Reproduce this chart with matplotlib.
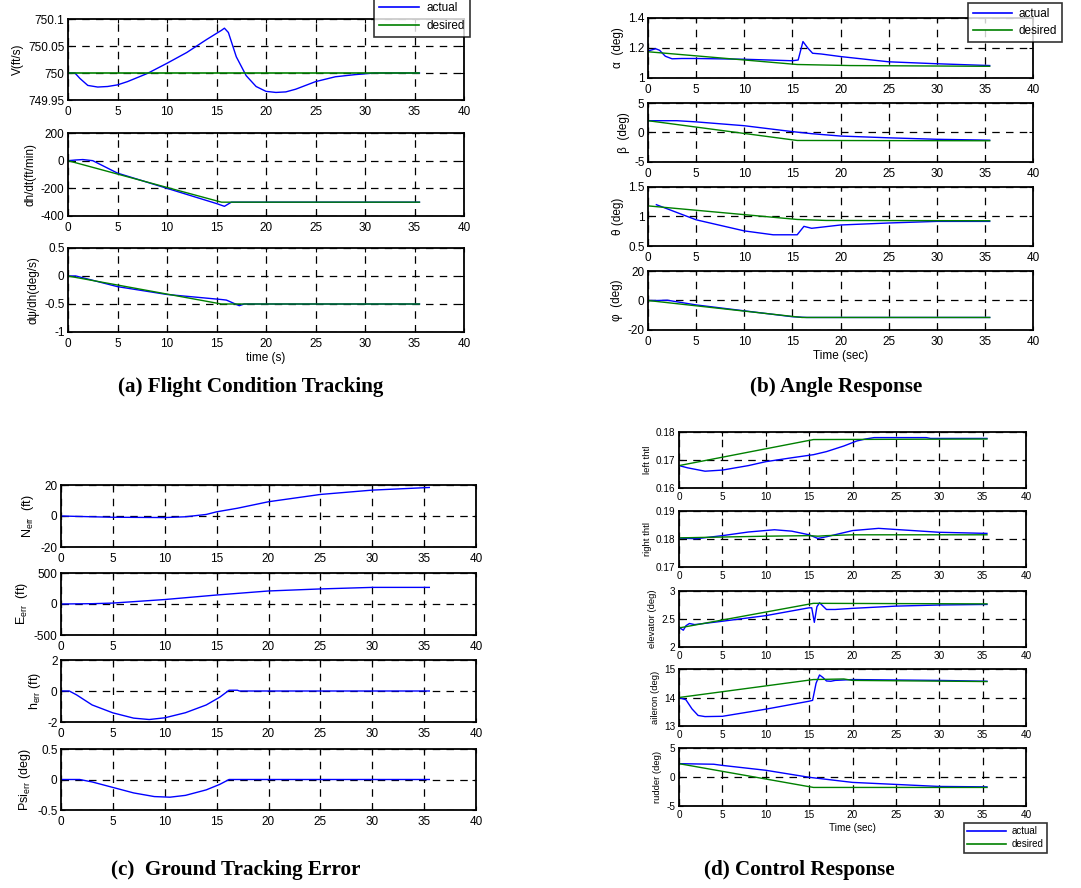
import matplotlib
matplotlib.use("Agg")
import matplotlib.pyplot as plt
from matplotlib.lines import Line2D
from matplotlib import ticker

plt.rcParams['font.family'] = ['Liberation Sans', 'DejaVu Sans']
plt.rcParams['mathtext.fontset'] = 'custom'
plt.rcParams['mathtext.rm'] = 'Liberation Sans'
plt.rcParams['mathtext.it'] = 'Liberation Sans:italic'
plt.rcParams['axes.unicode_minus'] = False

# ---------------- data ----------------
x_ticks = [0, 5, 10, 15, 20, 25, 30, 35, 40]

# (a) Flight condition tracking
V_t = [0, 0.7, 1.2, 2, 3, 4, 5, 6, 8, 10, 12, 14, 15.5, 15.8, 16.2, 17, 18, 19, 20, 21, 22, 23, 25, 27, 29, 31, 35.5]
V_act = [750, 750, 749.99, 749.977, 749.974, 749.975, 749.978, 749.984, 749.999, 750.018, 750.038, 750.062,
         750.079, 750.083, 750.075, 750.03, 749.995, 749.975, 749.966, 749.964, 749.965, 749.970, 749.984,
         749.993, 749.997, 750.0, 750.0]
V_des_t = [0, 35.5]
V_des = [750, 750]
V_ticks = [749.95, 750, 750.05, 750.1]
V_ticklabels = ['749.95', '750', '750.05', '750.1']

dh_t = [0, 0.8, 1.5, 2.5, 5, 10, 15, 15.8, 16.5, 35.5]
dh_act = [0, 5, 8, 0, -90, -200, -310, -330, -300, -300]
dh_des_t = [0, 15.5, 35.5]
dh_des = [0, -300, -300]
dh_ticks = [-400, -200, 0, 200]

dpsi_t = [0, 0.8, 5, 10, 15.5, 16, 17.3, 17.8, 35.5]
dpsi_act = [0, 0, -0.19, -0.33, -0.42, -0.43, -0.53, -0.5, -0.5]
dpsi_des_t = [0, 15.5, 35.5]
dpsi_des = [0, -0.5, -0.5]
dpsi_ticks = [-1, -0.5, 0, 0.5]

# (b) Angle response
al_t = [0, 0.8, 1.2, 1.8, 2.5, 3.5, 5, 10, 15, 15.6, 16.1, 16.6, 17.1, 18, 20, 25, 30, 35.5]
al_act = [1.18, 1.195, 1.185, 1.145, 1.128, 1.13, 1.13, 1.125, 1.115, 1.12, 1.243, 1.2, 1.165, 1.16,
          1.143, 1.108, 1.095, 1.083]
al_des_t = [0, 15.5, 21, 35.5]
al_des = [1.175, 1.09, 1.083, 1.078]
al_ticks = [1, 1.2, 1.4]

be_t = [0, 3, 5, 10, 15, 17, 20, 25, 30, 35.5]
be_act = [2.0, 2.0, 1.8, 1.15, 0.15, -0.2, -0.6, -0.9, -1.15, -1.3]
be_des_t = [0, 15.5, 35.5]
be_des = [2.0, -1.35, -1.4]
be_ticks = [-5, 0, 5]

th_t = [0.87, 5, 10, 13, 15.5, 16.2, 17, 20, 25, 30, 35.5]
th_act = [1.2, 0.944, 0.756, 0.69, 0.69, 0.833, 0.8, 0.856, 0.89, 0.917, 0.917]
th_des_t = [0, 15.5, 18.5, 35.5]
th_des = [1.18, 0.95, 0.933, 0.928]
th_ticks = [0.5, 1, 1.5]

ph_t = [0, 1, 2, 5, 10, 15, 16.5, 35.5]
ph_act = [0, 0, 0.2, -3, -7, -11, -11.5, -11.5]
ph_des_t = [0, 16, 35.5]
ph_des = [0, -11.5, -11.5]
ph_ticks = [-20, 0, 20]

# (c) Ground tracking error
N_t = [0, 3, 5, 10, 12, 14, 15, 17, 20, 25, 30, 35.5]
N_err = [0, -0.5, -0.8, -1, -0.5, 1, 2.7, 5, 9.2, 13.9, 16.7, 18.4]
N_ticks = [-20, 0, 20]

E_t = [0, 3, 5, 10, 15, 20, 25, 30, 35.5]
E_err = [0, 5, 15, 72, 145, 210, 243, 268, 268]
E_ticks = [-500, 0, 500]

h_t = [0, 0.8, 1.5, 3, 5, 7, 8.5, 10, 12, 14, 15.3, 16.2, 17, 17.2, 35.5]
h_err = [0, 0, -0.25, -0.9, -1.41, -1.75, -1.84, -1.73, -1.4, -0.9, -0.4, 0.05, 0.05, 0, 0]
h_ticks = [-2, 0, 2]

P_t = [0, 1.8, 3, 5, 7, 9, 10.5, 12, 14, 15.3, 16.2, 35.5]
P_err = [0, 0, -0.04, -0.13, -0.22, -0.28, -0.29, -0.26, -0.17, -0.08, 0, 0]
P_ticks = [-0.5, 0, 0.5]

# (d) Control response
lt_t = [0, 1, 3, 5, 8, 10, 13, 15.5, 17, 19, 20.5, 21.5, 22.5, 28.5, 29, 35.5]
lt_act = [0.168, 0.1672, 0.166, 0.1664, 0.168, 0.1694, 0.1708, 0.1719, 0.173, 0.175, 0.1768, 0.1775,
          0.178, 0.178, 0.1777, 0.1777]
lt_des_t = [0, 15.5, 35.5]
lt_des = [0.168, 0.1773, 0.1775]
lt_ticks = [0.16, 0.17, 0.18]
lt_ticklabels = ['0.16', '0.17', '0.18']

rt_t = [0, 2, 5, 8, 11, 13, 15, 16, 17, 20, 23, 25, 30, 35.5]
rt_act = [0.1803, 0.1801, 0.1812, 0.1825, 0.1833, 0.1828, 0.1815, 0.1802, 0.1808, 0.183, 0.1838, 0.1834,
          0.1824, 0.182]
rt_des_t = [0, 10, 15, 16, 17, 20, 35.5]
rt_des = [0.1804, 0.181, 0.1812, 0.181, 0.1812, 0.1815, 0.1815]
rt_ticks = [0.17, 0.18, 0.19]
rt_ticklabels = ['0.17', '0.18', '0.19']

el_t = [0, 0.5, 0.8, 1.2, 1.8, 5, 10, 15, 15.3, 15.6, 15.9, 16.2, 17, 18, 20, 25, 30, 35.5]
el_act = [2.35, 2.3, 2.38, 2.42, 2.4, 2.46, 2.56, 2.7, 2.7, 2.44, 2.72, 2.79, 2.67, 2.67, 2.69, 2.73,
          2.75, 2.76]
el_des_t = [0, 15.5, 35.5]
el_des = [2.34, 2.78, 2.77]
el_ticks = [2, 2.5, 3]

ai_t = [0, 0.5, 0.8, 1.5, 2.2, 3, 5, 10, 15, 15.4, 15.8, 16.2, 16.6, 17, 17.5, 18, 20, 23, 30, 35.5]
ai_act = [14.0, 13.95, 13.92, 13.6, 13.37, 13.33, 13.34, 13.59, 13.87, 13.9, 14.5, 14.79, 14.7, 14.58,
          14.57, 14.6, 14.63, 14.62, 14.6, 14.57]
ai_des_t = [0, 15.5, 19, 20, 35.5]
ai_des = [14.0, 14.63, 14.65, 14.6, 14.56]
ai_ticks = [13, 14, 15]

ru_t = [0, 4, 5, 10, 15, 20, 25, 30, 35.5]
ru_act = [2.3, 2.2, 2.0, 1.16, -0.05, -0.93, -1.28, -1.63, -1.7]
ru_des_t = [0, 15.5, 35.5]
ru_des = [2.3, -1.8, -1.8]
ru_ticks = [-5, 0, 5]

# ---------------- figure ----------------
W, H = 1081, 888
fig = plt.figure(figsize=(W / 100, H / 100), dpi=100)
BLUE = '#0000ff'
GREEN = '#008000'
fmt = ticker.FuncFormatter(lambda v, p: '%g' % v)


def make_ax(x0, x1, ytop, ybot, yticks, ylabel, yticklabels=None, fs=8.5, lfs=8.5, xpad=4):
    ax = fig.add_axes([x0 / W, 1 - ybot / H, (x1 - x0) / W, (ybot - ytop) / H])
    ax.set_xlim(0, 40)
    ax.set_ylim(yticks[0], yticks[-1])
    ax.set_xticks(x_ticks)
    ax.set_yticks(yticks)
    ax.xaxis.set_major_formatter(fmt)
    if yticklabels is not None:
        ax.set_yticklabels(yticklabels)
    else:
        ax.yaxis.set_major_formatter(fmt)
    ax.tick_params(direction='in', length=3, width=0.8, top=True, right=True,
                   labelsize=fs, pad=2.5, colors='black')
    ax.tick_params(axis='x', pad=xpad)
    ax.grid(True, color='black', linestyle=(0, (6, 5)), linewidth=0.9)
    ax.set_axisbelow(True)
    for s in ax.spines.values():
        s.set_linewidth(1.3)
    ax.set_ylabel(ylabel, fontsize=lfs, labelpad=3)
    return ax


def title(xc, y, txt):
    fig.text(xc / W, 1 - y / H, txt, ha='center', va='center', family='Liberation Serif',
             fontweight='bold', fontsize=15.2)


def add_legend(handles, loc, anchor, fs, hl, bp, ls):
    leg = fig.legend(handles, ['actual', 'desired'], loc=loc, bbox_to_anchor=anchor, fontsize=fs,
                     frameon=True, fancybox=False, handlelength=hl, borderpad=bp, labelspacing=ls,
                     borderaxespad=0, handletextpad=0.6)
    leg.get_frame().set_edgecolor('black')
    leg.get_frame().set_linewidth(1.2)
    return leg


handles = [Line2D([], [], color=BLUE, lw=1.2), Line2D([], [], color=GREEN, lw=1.2)]

# (a)
ax = make_ax(68, 464, 19, 100, V_ticks, 'V(ft/s)', V_ticklabels)
ax.plot(V_t, V_act, color=BLUE, lw=1)
ax.plot(V_des_t, V_des, color=GREEN, lw=1.2)
ax = make_ax(68, 464, 133, 216, dh_ticks, 'dh/dt(ft/min)')
ax.plot(dh_t, dh_act, color=BLUE, lw=1)
ax.plot(dh_des_t, dh_des, color=GREEN, lw=1)
ax = make_ax(68, 464, 248, 332, dpsi_ticks, 'd\u03c8/dh(deg/s)')
ax.plot(dpsi_t, dpsi_act, color=BLUE, lw=1)
ax.plot(dpsi_des_t, dpsi_des, color=GREEN, lw=1)
ax.set_xlabel('time (s)', fontsize=8.5, labelpad=2)
add_legend(handles, 'lower right', (470 / W, 1 - 37 / H), 8.5, 3.4, 0.45, 0.5)
title(251, 387, '(a) Flight Condition Tracking')

# (b)
ax = make_ax(648, 1033, 18, 78, al_ticks, '\u03b1  (deg)')
ax.plot(al_t, al_act, color=BLUE, lw=1)
ax.plot(al_des_t, al_des, color=GREEN, lw=1)
ax = make_ax(648, 1033, 103, 162, be_ticks, '\u03b2  (deg)')
ax.plot(be_t, be_act, color=BLUE, lw=1)
ax.plot(be_des_t, be_des, color=GREEN, lw=1)
ax = make_ax(648, 1033, 187, 246, th_ticks, '\u03b8 (deg)')
ax.plot(th_t, th_act, color=BLUE, lw=1)
ax.plot(th_des_t, th_des, color=GREEN, lw=1)
ax = make_ax(648, 1033, 271, 330, ph_ticks, '\u03c6  (deg)')
ax.plot(ph_t, ph_act, color=BLUE, lw=1)
ax.plot(ph_des_t, ph_des, color=GREEN, lw=1)
ax.set_xlabel('Time (sec)', fontsize=8.5, labelpad=2)
add_legend(handles, 'upper right', (1062 / W, 1 - 3 / H), 8.5, 3.3, 0.4, 0.45)
title(836, 387, '(b) Angle Response')

# (c)
ax = make_ax(61, 476, 485, 547, N_ticks, r'N$_{\mathrm{err}}$  (ft)', lfs=9)
ax.plot(N_t, N_err, color=BLUE, lw=1)
ax = make_ax(61, 476, 573, 635, E_ticks, r'E$_{\mathrm{err}}$  (ft)', lfs=9)
ax.plot(E_t, E_err, color=BLUE, lw=1)
ax = make_ax(61, 476, 660, 722, h_ticks, r'h$_{\mathrm{err}}$ (ft)', lfs=9)
ax.plot(h_t, h_err, color=BLUE, lw=1)
ax = make_ax(61, 476, 749, 810, P_ticks, r'Psi$_{\mathrm{err}}$ (deg)', lfs=9)
ax.plot(P_t, P_err, color=BLUE, lw=1)
title(236, 870, '(c)  Ground Tracking Error')

# (d)
ax = make_ax(679, 1026, 432, 488, lt_ticks, 'left thtl', lt_ticklabels, fs=7.2, lfs=6.8, xpad=3)
ax.plot(lt_t, lt_act, color=BLUE, lw=1)
ax.plot(lt_des_t, lt_des, color=GREEN, lw=1)
ax = make_ax(679, 1026, 511, 567, rt_ticks, 'right thtl', rt_ticklabels, fs=7.2, lfs=6.8, xpad=3)
ax.plot(rt_t, rt_act, color=BLUE, lw=1)
ax.plot(rt_des_t, rt_des, color=GREEN, lw=1)
ax = make_ax(679, 1026, 591, 647, el_ticks, 'elevator (deg)', fs=7.2, lfs=6.8, xpad=3)
ax.plot(el_t, el_act, color=BLUE, lw=1)
ax.plot(el_des_t, el_des, color=GREEN, lw=1)
ax = make_ax(679, 1026, 669, 726, ai_ticks, 'aileron (deg)', fs=7.2, lfs=6.8, xpad=3)
ax.plot(ai_t, ai_act, color=BLUE, lw=1)
ax.plot(ai_des_t, ai_des, color=GREEN, lw=1)
ax = make_ax(679, 1026, 748, 806, ru_ticks, 'rudder (deg)', fs=7.2, lfs=6.8, xpad=3)
ax.plot(ru_t, ru_act, color=BLUE, lw=1)
ax.plot(ru_des_t, ru_des, color=GREEN, lw=1)
ax.set_xlabel('Time (sec)', fontsize=7.2, labelpad=2)
add_legend(handles, 'upper left', (964 / W, 1 - 823 / H), 7, 4.0, 0.35, 0.3)
title(799, 870, '(d) Control Response')

fig.savefig('out.png', dpi=100)
